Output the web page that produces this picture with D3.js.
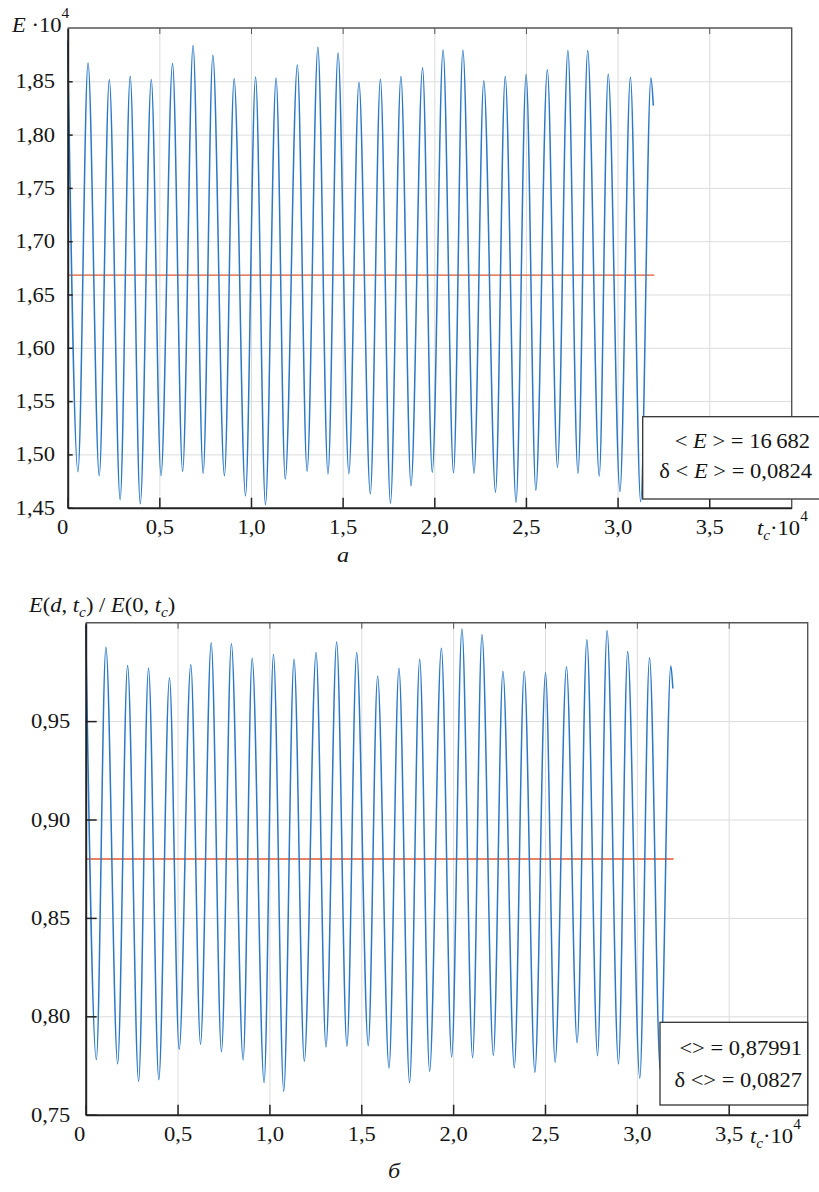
<!DOCTYPE html>
<html>
<head>
<meta charset="utf-8">
<script src="https://cdn.jsdelivr.net/npm/d3@7"></script>
<style>
  body { margin: 0; background: #fff; }
  svg { display: block; }
  text { font-family: 'Liberation Serif', 'Times New Roman', serif; fill: #151515; }
  .grid line { stroke: #dcdcdc; stroke-width: 1; }
  .grid .domain { display: none; }
</style>
</head>
<body>
<svg id="chart"></svg>
<script>
'use strict';

// panel a: E * 1e-4 against t_c * 1e-4, turning points
var energyT = [0.000, 0.056, 0.111, 0.172, 0.227, 0.286, 0.341, 0.396, 0.456, 0.509,
  0.572, 0.627, 0.684, 0.739, 0.792, 0.855, 0.908, 0.970, 1.025, 1.079,
  1.137, 1.187, 1.253, 1.306, 1.365, 1.420, 1.475, 1.534, 1.589, 1.651,
  1.706, 1.761, 1.818, 1.873, 1.936, 1.989, 2.048, 2.105, 2.156, 2.217,
  2.270, 2.334, 2.387, 2.446, 2.501, 2.554, 2.617, 2.672, 2.729, 2.784,
  2.837, 2.900, 2.949, 3.013, 3.070, 3.126, 3.182, 3.195];
var energyE = [1.888, 1.4837, 1.8672, 1.4800, 1.8516, 1.4575, 1.8547, 1.4537, 1.8516, 1.4800,
  1.8666, 1.4841, 1.8835, 1.4822, 1.8744, 1.4800, 1.8525, 1.4612, 1.8541, 1.4528,
  1.8531, 1.4769, 1.8653, 1.4841, 1.8819, 1.4816, 1.8766, 1.4819, 1.8491, 1.4631,
  1.8519, 1.4543, 1.8544, 1.4706, 1.8628, 1.4834, 1.8794, 1.4828, 1.8791, 1.4822,
  1.8506, 1.4647, 1.8544, 1.4550, 1.8563, 1.4665, 1.8609, 1.4878, 1.8788, 1.4822,
  1.8788, 1.4797, 1.8566, 1.4653, 1.8538, 1.4556, 1.8531, 1.8272];
var energyMean = 1.6682;

// panel б: E(d, t_c) / E(0, t_c)
var ratioT = [0.000, 0.058, 0.110, 0.174, 0.228, 0.288, 0.342, 0.398, 0.456, 0.509,
  0.572, 0.625, 0.683, 0.739, 0.793, 0.857, 0.906, 0.971, 1.022, 1.078,
  1.134, 1.190, 1.254, 1.308, 1.366, 1.422, 1.475, 1.538, 1.589, 1.651,
  1.705, 1.763, 1.818, 1.872, 1.936, 1.992, 2.048, 2.106, 2.157, 2.219,
  2.271, 2.333, 2.387, 2.445, 2.503, 2.555, 2.617, 2.675, 2.728, 2.786,
  2.838, 2.900, 2.950, 3.016, 3.069, 3.128, 3.185, 3.196];
var ratioE = [0.9988, 0.7780, 0.9875, 0.7759, 0.9783, 0.7670, 0.9768, 0.7678, 0.9720, 0.7832,
  0.9788, 0.7858, 0.9898, 0.7820, 0.9893, 0.7778, 0.9819, 0.7663, 0.9839, 0.7619,
  0.9814, 0.7771, 0.9849, 0.7844, 0.9902, 0.7848, 0.9849, 0.7851, 0.9729, 0.7737,
  0.9768, 0.7663, 0.9814, 0.7720, 0.9870, 0.7792, 0.9968, 0.7790, 0.9939, 0.7802,
  0.9753, 0.7739, 0.9753, 0.7714, 0.9746, 0.7766, 0.9776, 0.7866, 0.9914, 0.7800,
  0.9959, 0.7758, 0.9854, 0.7685, 0.9822, 0.7720, 0.9780, 0.9666];
var ratioMean = 0.87991;

var meanEnd = 3.2;
var xTicks = [0, 0.5, 1.0, 1.5, 2.0, 2.5, 3.0, 3.5];
var energyTicks = [1.45, 1.50, 1.55, 1.60, 1.65, 1.70, 1.75, 1.80, 1.85];
var ratioTicks = [0.75, 0.80, 0.85, 0.90, 0.95];

var SX = 1.1; // the scan is stretched sideways a little
var svg = d3.select('#chart').attr('width', 819).attr('height', 1192);

function fmt(digits) {
  return function(d) {
    return d === 0 ? '0' : d3.format('.' + digits + 'f')(d).replace('.', ',');
  };
}

function stretch(sel) {
  sel.attr('transform', 'scale(' + SX + ',1)');
}

function addText(x, y, size, anchor) {
  return svg.append('text')
    .attr('transform', 'translate(' + x + ',' + y + ') scale(' + SX + ',1)')
    .attr('text-anchor', anchor || 'start')
    .style('font-size', size + 'px');
}

function drawPanel(p) {
  var w = p.right - p.left,
    h = p.bottom - p.top,
    g = svg.append('g').attr('transform', 'translate(' + p.left + ',' + p.top + ')');

  var x = d3.scaleLinear().domain([0, p.xMax]).range([0, w]);
  var y = d3.scaleLinear().domain(p.yDomain).range([h, 0]);

  // grid
  g.append('g')
    .attr('class', 'grid')
    .attr('transform', 'translate(0,' + h + ')')
    .call(d3.axisBottom(x).tickValues(xTicks.slice(1)).tickSize(-h).tickFormat(''));
  g.append('g')
    .attr('class', 'grid')
    .call(d3.axisLeft(y).tickValues(p.yTicks.slice(1)).tickSize(-w).tickFormat(''));

  // mean value
  g.append('line')
    .attr('x1', x(0)).attr('x2', x(meanEnd))
    .attr('y1', y(p.mean)).attr('y2', y(p.mean))
    .attr('stroke', '#e4572e')
    .attr('stroke-width', 1.4);

  var line = d3.line()
    .x(function(d) { return x(d[0]); })
    .y(function(d) { return y(d[1]); })
    .curve(d3.curveMonotoneX);

  g.append('path')
    .datum(d3.zip(p.t, p.v))
    .attr('d', line)
    .attr('fill', 'none')
    .attr('stroke', '#2a78c6')
    .attr('stroke-width', 1.5);

  // frame
  g.append('path')
    .attr('d', 'M0,0H' + w + 'V' + h)
    .attr('fill', 'none')
    .attr('stroke', '#555')
    .attr('stroke-width', 1.4);

  g.append('g')
    .call(d3.axisTop(x).tickValues(xTicks.slice(1)).tickSize(-6).tickFormat(''))
    .call(function(a) { a.select('.domain').remove(); })
    .selectAll('line').attr('stroke', '#555');

  var xa = g.append('g')
    .attr('transform', 'translate(0,' + h + ')')
    .call(d3.axisBottom(x).tickValues(xTicks).tickSizeInner(-10).tickSizeOuter(0)
      .tickPadding(12).tickFormat(fmt(1)));
  var ya = g.append('g')
    .call(d3.axisLeft(y).tickValues(p.yTicks).tickSizeInner(-p.yTick).tickSizeOuter(0)
      .tickPadding(p.yPad).tickFormat(fmt(2)));

  [xa, ya].forEach(function(a) {
    a.select('.domain').attr('stroke', '#222').attr('stroke-width', 2);
    a.selectAll('.tick line').attr('stroke', '#222').attr('stroke-width', 1.5);
    a.selectAll('text')
      .attr('fill', '#151515')
      .style('font-family', "'Liberation Serif', serif")
      .style('font-size', '20.5px')
      .call(stretch);
  });
  xa.select('.tick text').attr('dx', p.zeroShift);

  // legend box
  svg.append('rect')
    .attr('x', p.box[0]).attr('y', p.box[1])
    .attr('width', p.box[2]).attr('height', p.box[3])
    .attr('fill', '#fff')
    .attr('stroke', '#333')
    .attr('stroke-width', 1.3);
}

drawPanel({
  left: 67.7, right: 791.7, top: 28, bottom: 507.7,
  xMax: 3.95, yDomain: [1.45, 1.90], yTicks: energyTicks, yTick: 5, yPad: 11.5,
  t: energyT, v: energyE, mean: energyMean, zeroShift: -5,
  box: [642.7, 416.7, 180, 82.3]
});

drawPanel({
  left: 85.7, right: 807.7, top: 622.7, bottom: 1114.7,
  xMax: 3.93, yDomain: [0.75, 1.0], yTicks: ratioTicks, yTick: 11, yPad: 14,
  t: ratioT, v: ratioE, mean: ratioMean, zeroShift: -6,
  box: [660, 1022.3, 147.7, 82.7]
});

// axis titles, panel a
var t1 = addText(12, 32.3, 20.5);
t1.append('tspan').style('font-style', 'italic').text('E');
t1.append('tspan').text(' \u00b710');
t1.append('tspan').attr('dy', -14).style('font-size', '14px').text('4');

var t2 = addText(757, 535, 20.5);
t2.append('tspan').style('font-style', 'italic').text('t');
t2.append('tspan').attr('dy', 5).style('font-style', 'italic').style('font-size', '14px').text('c');
t2.append('tspan').attr('dy', -5).text('\u00b710');
t2.append('tspan').attr('dy', -14).style('font-size', '14px').text('4');

addText(343, 562, 22, 'middle').style('font-style', 'italic').text('а');

// legend, panel a
var l1 = addText(810, 448.3, 20.5, 'end');
l1.append('tspan').text('< ');
l1.append('tspan').style('font-style', 'italic').text('E');
l1.append('tspan').text(' > = 16\u2009682');
var l2 = addText(812, 478.3, 20.5, 'end');
l2.append('tspan').text('\u03b4 < ');
l2.append('tspan').style('font-style', 'italic').text('E');
l2.append('tspan').text(' > = 0,0824');

// axis titles, panel б
var t3 = addText(29, 611.7, 20.5);
function sub(sel, s) {
  sel.append('tspan').style('font-style', 'italic').text('t');
  sel.append('tspan').attr('dy', 5).style('font-style', 'italic').style('font-size', '14px').text(s);
}
t3.append('tspan').style('font-style', 'italic').text('E');
t3.append('tspan').text('(');
t3.append('tspan').style('font-style', 'italic').text('d');
t3.append('tspan').text(', ');
sub(t3, 'c');
t3.append('tspan').attr('dy', -5).text(') / ');
t3.append('tspan').style('font-style', 'italic').text('E');
t3.append('tspan').text('(0, ');
sub(t3, 'c');
t3.append('tspan').attr('dy', -5).text(')');

var t4 = addText(750, 1143, 20.5);
sub(t4, 'c');
t4.append('tspan').attr('dy', -5).text('\u00b710');
t4.append('tspan').attr('dy', -14).style('font-size', '14px').text('4');

addText(394, 1178, 22, 'middle').style('font-style', 'italic').text('б');

// legend, panel б
addText(802, 1055, 20.5, 'end').text('<> =  0,87991');
addText(802, 1086.7, 20.5, 'end').text('\u03b4 <> = 0,0827');
</script>
</body>
</html>
